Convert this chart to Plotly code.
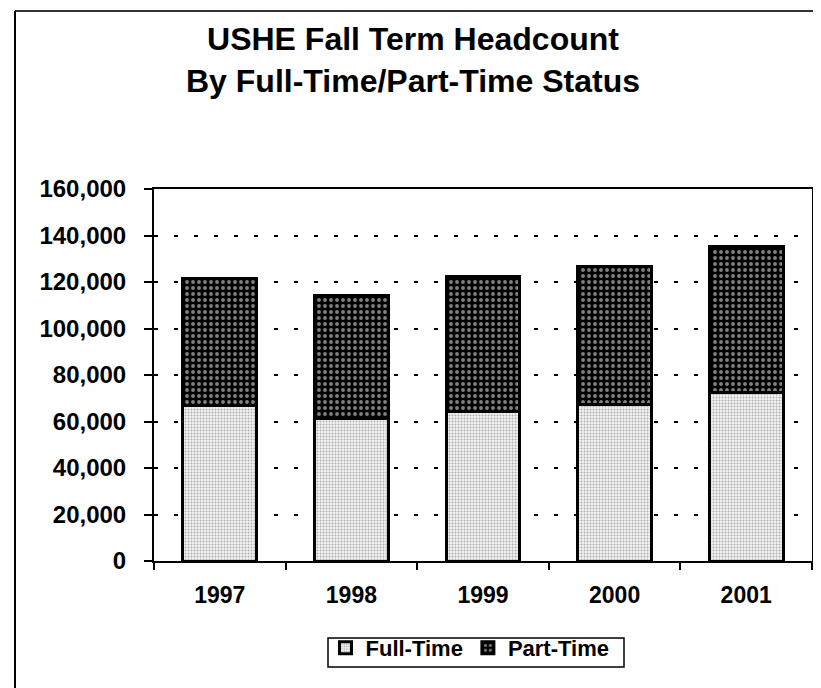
import plotly.graph_objects as go

years = ["1997", "1998", "1999", "2000", "2001"]
full_time = [66800, 61200, 64200, 67200, 72400]
part_time = [54900, 52800, 58300, 59600, 62900]
y_ticks = [0, 20000, 40000, 60000, 80000, 100000, 120000, 140000, 160000]

FONT = "Liberation Sans, Arial, sans-serif"
W, H = 821, 688
L, R, T, B = 146, 804, 181, 553

def px_x(p):
    return (p - L) / (R - L)

def px_y(p):
    return (B - p) / (B - T)

fig = go.Figure()
fig.add_trace(go.Bar(
    x=years, y=full_time, name="<b>Full-Time</b>",
    marker=dict(color="white", line=dict(color="black", width=3),
                pattern=dict(shape=".", fgcolor="#6a6a6a", bgcolor="#f2f2f2",
                             size=3, solidity=0.35)),
))
fig.add_trace(go.Bar(
    x=years, y=part_time, name="<b>Part-Time</b>",
    marker=dict(color="black", line=dict(color="black", width=3),
                pattern=dict(shape=".", fgcolor="white", bgcolor="black",
                             size=6, solidity=0.33)),
))

shapes = [
    dict(type="line", xref="paper", yref="paper", x0=px_x(7), x1=px_x(W + 5), y0=px_y(3), y1=px_y(3),
         line=dict(color="#333", width=2)),
    dict(type="line", xref="paper", yref="paper", x0=px_x(7), x1=px_x(7), y0=px_y(3), y1=px_y(687),
         line=dict(color="black", width=2)),
    dict(type="line", xref="paper", yref="paper", x0=px_x(7), x1=px_x(W + 5), y0=px_y(686), y1=px_y(686),
         line=dict(color="#333", width=2)),
    # legend frame
    dict(type="rect", xref="paper", yref="paper", x0=px_x(320), x1=px_x(616), y0=px_y(630), y1=px_y(659),
         line=dict(color="black", width=1.5), fillcolor="rgba(0,0,0,0)"),
]

fig.update_layout(
    width=W, height=H,
    margin=dict(l=L, r=W - R, t=T, b=H - B, pad=0),
    paper_bgcolor="white", plot_bgcolor="white",
    barmode="stack", bargap=0.44,
    font=dict(family=FONT, color="black"),
    title=dict(text="<b>USHE Fall Term Headcount<br>By Full-Time/Part-Time Status</b>",
               font=dict(size=32, family=FONT, color="black"),
               x=405 / W, xref="container", xanchor="center",
               y=1 - 42 / H, yref="container", yanchor="top"),
    xaxis=dict(showline=True, linecolor="black", linewidth=2, mirror=True,
               ticks="outside", tickson="boundaries", ticklen=7, tickwidth=2, tickcolor="black",
               tickfont=dict(size=23, family=FONT), ticklabelstandoff=12,
               tickvals=years, ticktext=["<b>%s</b>" % y for y in years]),
    yaxis=dict(range=[0, 160000], showline=True, linecolor="black", linewidth=2, mirror=True,
               tickvals=y_ticks, ticktext=["<b>{:,}</b>".format(v) for v in y_ticks],
               ticks="outside", ticklen=8, tickwidth=2, tickcolor="black",
               tickfont=dict(size=24, family=FONT), ticklabelstandoff=13,
               showgrid=True, gridcolor="black", gridwidth=2, griddash="4px,16px",
               zeroline=False),
    yaxis2=dict(overlaying="y", anchor="x", side="left", range=[0, 160000],
                tickvals=y_ticks, showticklabels=False, ticks="inside", ticklen=5,
                tickwidth=2, tickcolor="black", showgrid=False, showline=False, zeroline=False),
    legend=dict(orientation="h", x=px_x(462), xanchor="center", y=px_y(619), yanchor="top",
                borderwidth=0, bgcolor="rgba(0,0,0,0)",
                font=dict(size=22, family=FONT), traceorder="normal",
                itemwidth=30),
    shapes=shapes,
)

fig.write_html("out.html")
